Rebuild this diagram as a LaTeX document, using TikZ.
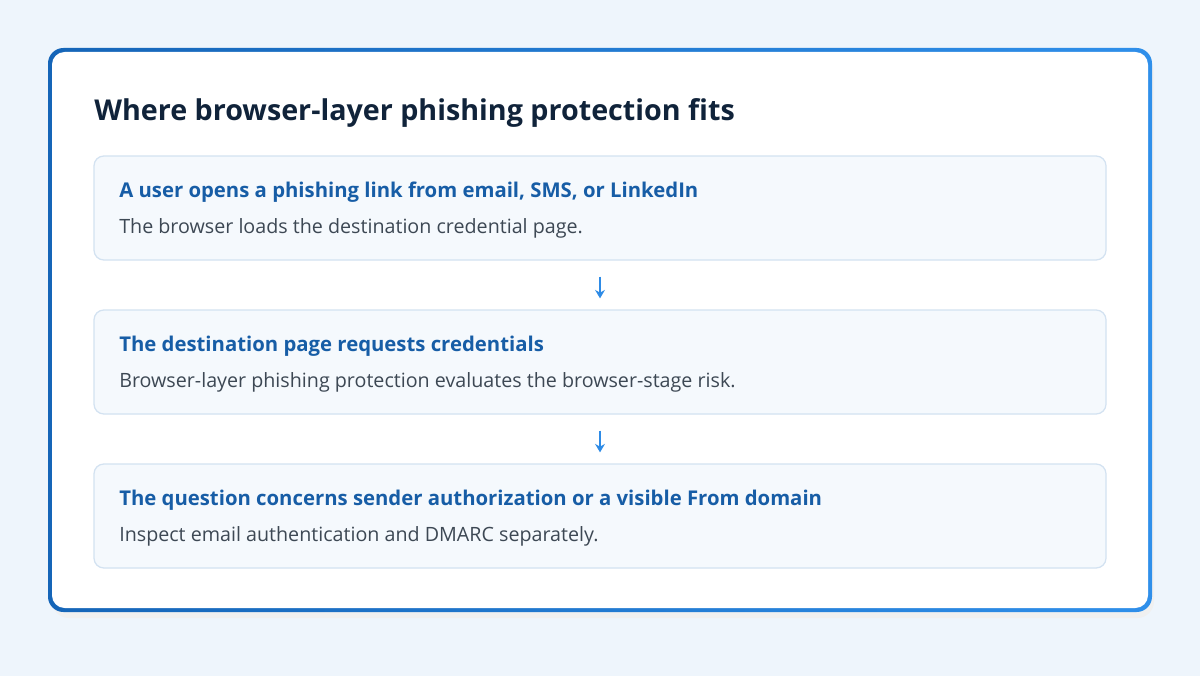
\documentclass[tikz,border=0pt]{standalone}
\usepackage{fontspec}
\setmainfont{Open Sans}
\usetikzlibrary{positioning, arrows.meta}
\definecolor{bgblue}{HTML}{EEF5FC}
\definecolor{navy}{HTML}{10233A}
\definecolor{headblue}{HTML}{175DA6}
\definecolor{bodygray}{HTML}{3D4854}
\definecolor{boxfill}{HTML}{F5F9FD}
\definecolor{boxline}{HTML}{D3E2F1}
\definecolor{arrowblue}{HTML}{2E8BE6}
\definecolor{edgedark}{HTML}{1565B8}
\definecolor{edgelight}{HTML}{2F8FEA}
\begin{document}
\begin{tikzpicture}[x=0.025cm, y=-0.025cm]
  % Setup the styles
  \tikzset{step box/.style={draw=boxline, fill=boxfill, line width=0.9pt,
                            rounded corners=7pt, minimum width=1012*0.025cm,
                            minimum height=104*0.025cm, inner sep=0pt},
           step head/.style={anchor=base west, font=\fontsize{14.45}{18}\selectfont\bfseries,
                             text=headblue, inner sep=0pt},
           step body/.style={anchor=base west, font=\fontsize{14}{16}\selectfont,
                             text=bodygray, inner sep=0pt},
           step arrow/.style={-{Stealth[length=6pt,width=7pt]}, arrowblue, line width=1.3pt}}
  % Background and card
  \fill[bgblue] (0,0) rectangle (1200,676);
  \fill[black!6, rounded corners=12pt] (52,56) rectangle (1154,618);
  \shade[left color=edgedark, right color=edgelight, rounded corners=11pt]
    (48,48) rectangle (1152,612);
  \fill[white, rounded corners=9pt] (52,52) rectangle (1148,608);
  \node[anchor=base west, font=\fontsize{20.4}{26}\selectfont\bfseries, text=navy, inner sep=0pt]
    (title) at (94,121) {Where browser-layer phishing protection fits};
  % Draw the steps
  \node[step box] (s1) at (600,208) {};
  \node[step box] (s2) at (600,362) {};
  \node[step box] (s3) at (600,516) {};
  \node[step head] (h1) at (119,197) {A user opens a phishing link from email, SMS, or LinkedIn};
  \node[step body] (b1) at (119,233) {The browser loads the destination credential page.};
  \node[step head] (h2) at (119,351) {The destination page requests credentials};
  \node[step body] (b2) at (119,387) {Browser-layer phishing protection evaluates the browser-stage risk.};
  \node[step head] (h3) at (119,505) {The question concerns sender authorization or a visible From domain};
  \node[step body] (b3) at (119,541) {Inspect email authentication and DMARC separately.};
  % Connect the steps
  \draw[step arrow, shorten <=16*0.025cm, shorten >=11*0.025cm] (s1.south) -- (s2.north);
  \draw[step arrow, shorten <=16*0.025cm, shorten >=11*0.025cm] (s2.south) -- (s3.north);
\end{tikzpicture}
\end{document}
